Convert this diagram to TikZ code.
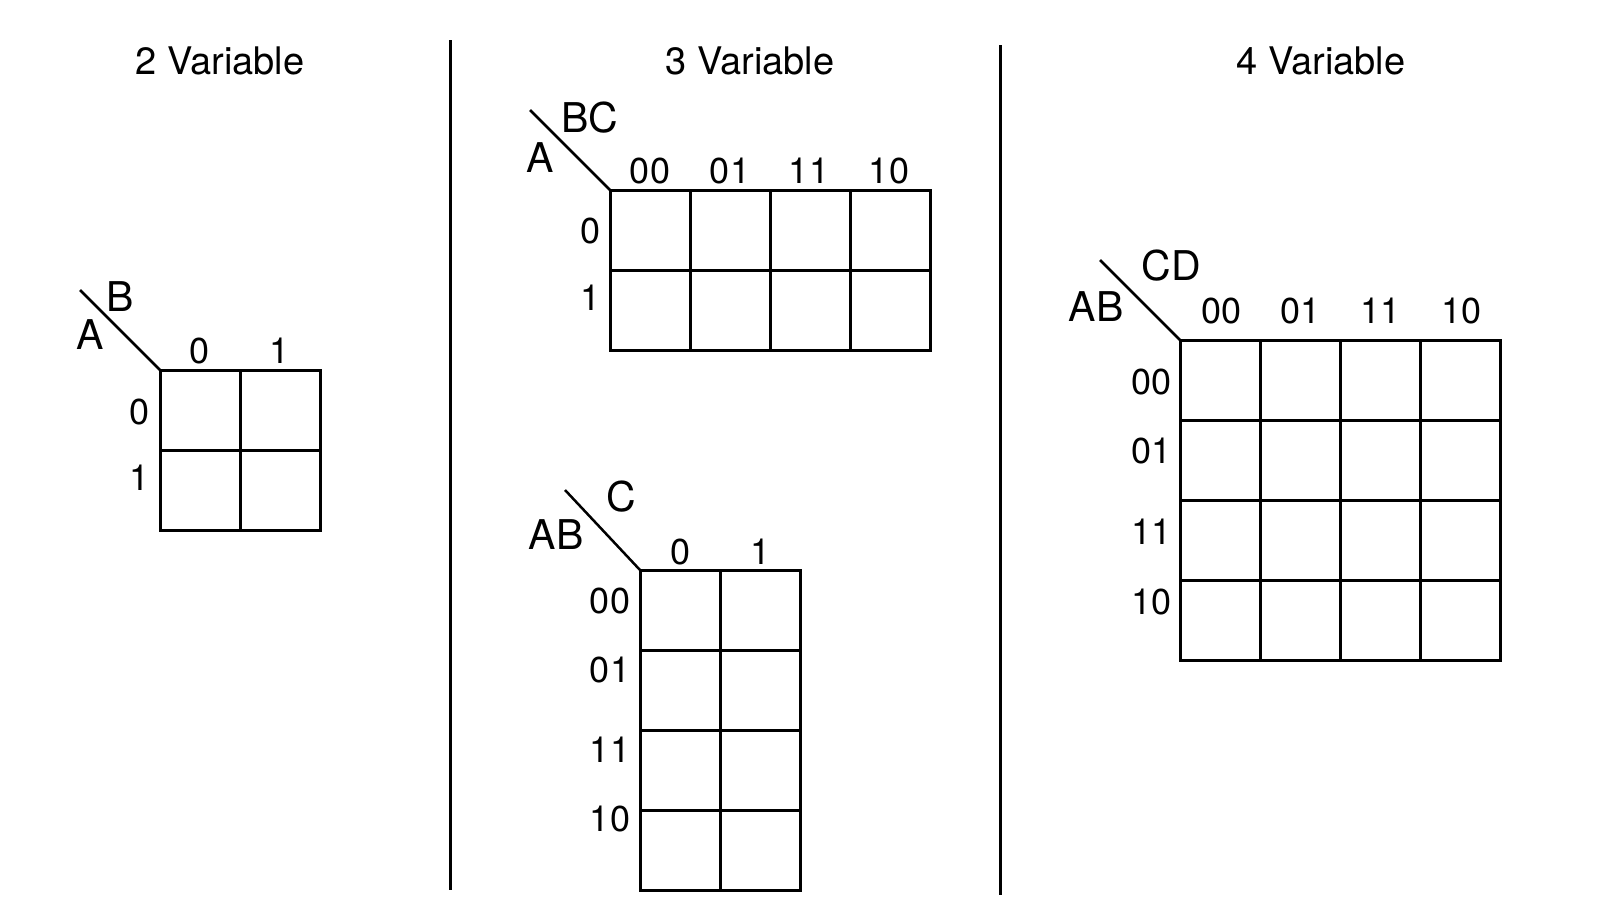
\documentclass[tikz,border=0pt]{standalone}
\usepackage{fontspec}
\setmainfont{TeX Gyre Heros}
\begin{document}
\begin{tikzpicture}[x=1pt,y=-1pt,
  gridline/.style={line width=3pt},
  diagline/.style={line width=2.5pt},
  divline/.style={line width=3pt},
  lett/.style={font=\fontsize{41}{41}\selectfont, inner sep=0pt},
  dig/.style={font=\fontsize{36}{36}\selectfont, inner sep=0pt},
  ttl/.style={font=\fontsize{38}{38}\selectfont, inner sep=0pt}]
\useasboundingbox (0,0) rectangle (1600,900);

% titles
\node[ttl] (t2) at (220,61) {2 Variable};
\node[ttl] (t3) at (750,61) {3 Variable};
\node[ttl] (t4) at (1321,61) {4 Variable};

% dividers
\coordinate (d1t) at (450,40); \coordinate (d1b) at (450,890);
\coordinate (d2t) at (1000,45); \coordinate (d2b) at (1000,895);
\draw[divline] (d1t) -- (d1b);
\draw[divline] (d2t) -- (d2b);

% ---------- 2 variable ----------
\coordinate (g2) at (160,370);
\draw[gridline] (g2) rectangle (320,530);
\draw[gridline] (240,370) -- (240,530);
\draw[gridline] (160,450) -- (320,450);
\coordinate (s2) at (80,290);
\draw[diagline] (s2) -- (g2);
\node[lett] (b2) at (120,297) {B};
\node[lett] (a2) at (90,335) {A};
\node[dig] (c2a) at (200,351) {0};
\node[dig] (c2b) at (280,351) {1};
\node[dig] (r2a) at (140,412) {0};
\node[dig] (r2b) at (140,478) {1};

% ---------- 3 variable (top) ----------
\coordinate (g3) at (610,190);
\draw[gridline] (g3) rectangle (930,350);
\foreach \x in {690,770,850} \draw[gridline] (\x,190) -- (\x,350);
\draw[gridline] (610,270) -- (930,270);
\coordinate (s3) at (530,110);
\draw[diagline] (s3) -- (g3);
\node[lett] (bc3) at (590,118) {BC};
\node[lett] (a3) at (540,158) {A};
\node[dig] (c3a) at (650,171) {00};
\node[dig] (c3b) at (730,171) {01};
\node[dig] (c3c) at (809,171) {11};
\node[dig] (c3d) at (889,171) {10};
\node[dig] (r3a) at (590,231) {0};
\node[dig] (r3b) at (590,298) {1};

% ---------- 3 variable (bottom) ----------
\coordinate (g3b) at (640,570);
\draw[gridline] (g3b) rectangle (800,890);
\draw[gridline] (720,570) -- (720,890);
\foreach \y in {650,730,810} \draw[gridline] (640,\y) -- (800,\y);
\coordinate (s3b) at (565,490);
\draw[diagline] (s3b) -- (g3b);
\node[lett] (cc3) at (621,497) {C};
\node[lett] (ab3) at (556,535) {AB};
\node[dig] (c3e) at (680,552) {0};
\node[dig] (c3f) at (760,552) {1};
\node[dig] (r3c) at (610,601) {00};
\node[dig] (r3d) at (610,670) {01};
\node[dig] (r3e) at (610,750) {11};
\node[dig] (r3f) at (610,819) {10};

% ---------- 4 variable ----------
\coordinate (g4) at (1180,340);
\draw[gridline] (g4) rectangle (1500,660);
\foreach \x in {1260,1340,1420} \draw[gridline] (\x,340) -- (\x,660);
\foreach \y in {420,500,580} \draw[gridline] (1180,\y) -- (1500,\y);
\coordinate (s4) at (1100,260);
\draw[diagline] (s4) -- (g4);
\node[lett] (cd4) at (1171,266) {CD};
\node[lett] (ab4) at (1096,307) {AB};
\node[dig] (c4a) at (1221,311) {00};
\node[dig] (c4b) at (1300,311) {01};
\node[dig] (c4c) at (1380,311) {11};
\node[dig] (c4d) at (1461,311) {10};
\node[dig] (r4a) at (1151,382) {00};
\node[dig] (r4b) at (1151,451) {01};
\node[dig] (r4c) at (1151,532) {11};
\node[dig] (r4d) at (1151,602) {10};
\end{tikzpicture}
\end{document}
